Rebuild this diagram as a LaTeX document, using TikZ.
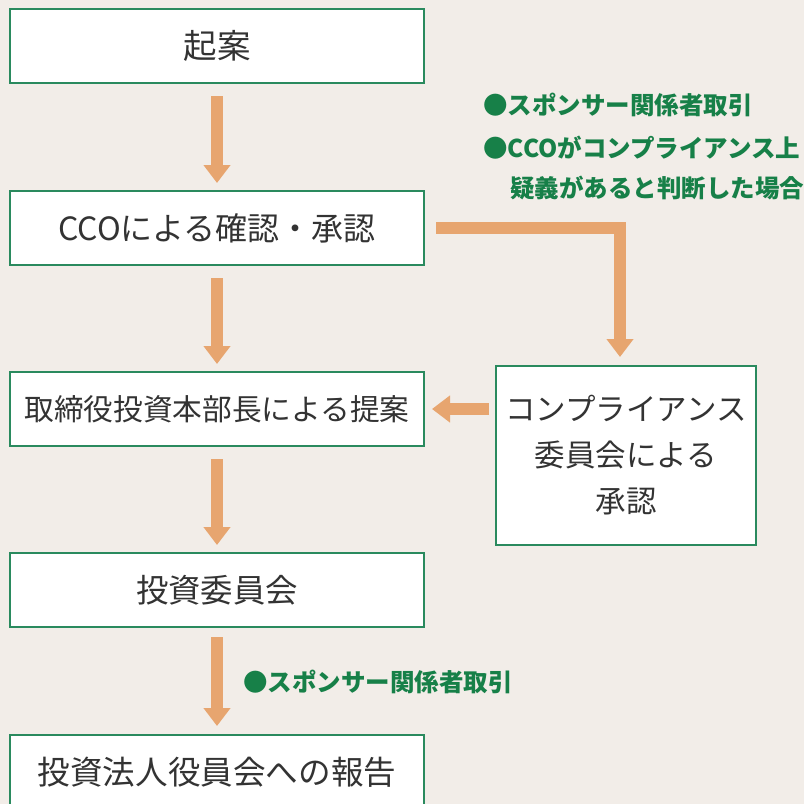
\documentclass[tikz,border=0pt]{standalone}
\usepackage{fontspec}
\setmainfont{Noto Sans CJK JP}
\usetikzlibrary{arrows.meta}
\definecolor{bg}{HTML}{F2EDE8}
\definecolor{boxgreen}{HTML}{2A8A5E}
\definecolor{arr}{HTML}{E7A56F}
\definecolor{lblgreen}{HTML}{178048}
\definecolor{txt}{HTML}{333333}
\newcommand{\fs}[1]{\fontsize{#1}{#1}\selectfont}
\begin{document}
\begin{tikzpicture}[x=1pt,y=-1pt,
  box/.style={draw=boxgreen, line width=2pt, fill=white, inner sep=0pt, text=txt,
    minimum width=414pt, minimum height=74pt, font=\fs{29}},
  flow/.style={draw=arr, line width=12pt, -{Triangle[width=26pt,length=18pt]}},
  lbl/.style={text=lblgreen, font=\bfseries\fs{24.5}, anchor=west, inner sep=0pt}]
\fill[bg] (0,0) rectangle (804,804);
\useasboundingbox (0,0) rectangle (804,804);

\node[box, font=\fs{33.5}] (a) at (217,46) {起案};
\node[box, font=\fs{32}] (b) at (217,228) {CCOによる確認・承認};
\node[box, font=\fs{29.7}] (d) at (217,409) {取締役投資本部長による提案};
\node[box, font=\fs{32.4}] (e) at (217,590) {投資委員会};
\node[box, font=\fs{32.6}] (f) at (217,772) {投資法人役員会への報告};
\node[box, minimum width=260pt, minimum height=179pt, align=center,
  font=\fontsize{30.5}{46}\selectfont] (c) at (626,455.5) {コンプライアンス\\委員会による\\承認};

\node[lbl] (l1) at (483,105) {●スポンサー関係者取引};
\node[lbl] (l2) at (483,148) {●CCOがコンプライアンス上};
\node[lbl] (l3) at (510,188) {疑義があると判断した場合};
\node[lbl] (l4) at (243,682) {●スポンサー関係者取引};

\draw[flow] ([yshift=-12pt]a.south) -- ([yshift=7pt]b.north);
\draw[flow] ([yshift=-12pt]b.south) -- ([yshift=7pt]d.north);
\draw[flow] ([yshift=-12pt]d.south) -- ([yshift=7pt]e.north);
\draw[flow] ([yshift=-9pt]e.south) -- ([yshift=8pt]f.north);
\draw[flow] ([xshift=11pt]b.east) -| ([xshift=-6pt,yshift=8pt]c.north);
\draw[flow] (c.west |- d.east) ++(-6pt,0) -- ([xshift=7pt]d.east);
\end{tikzpicture}
\end{document}
